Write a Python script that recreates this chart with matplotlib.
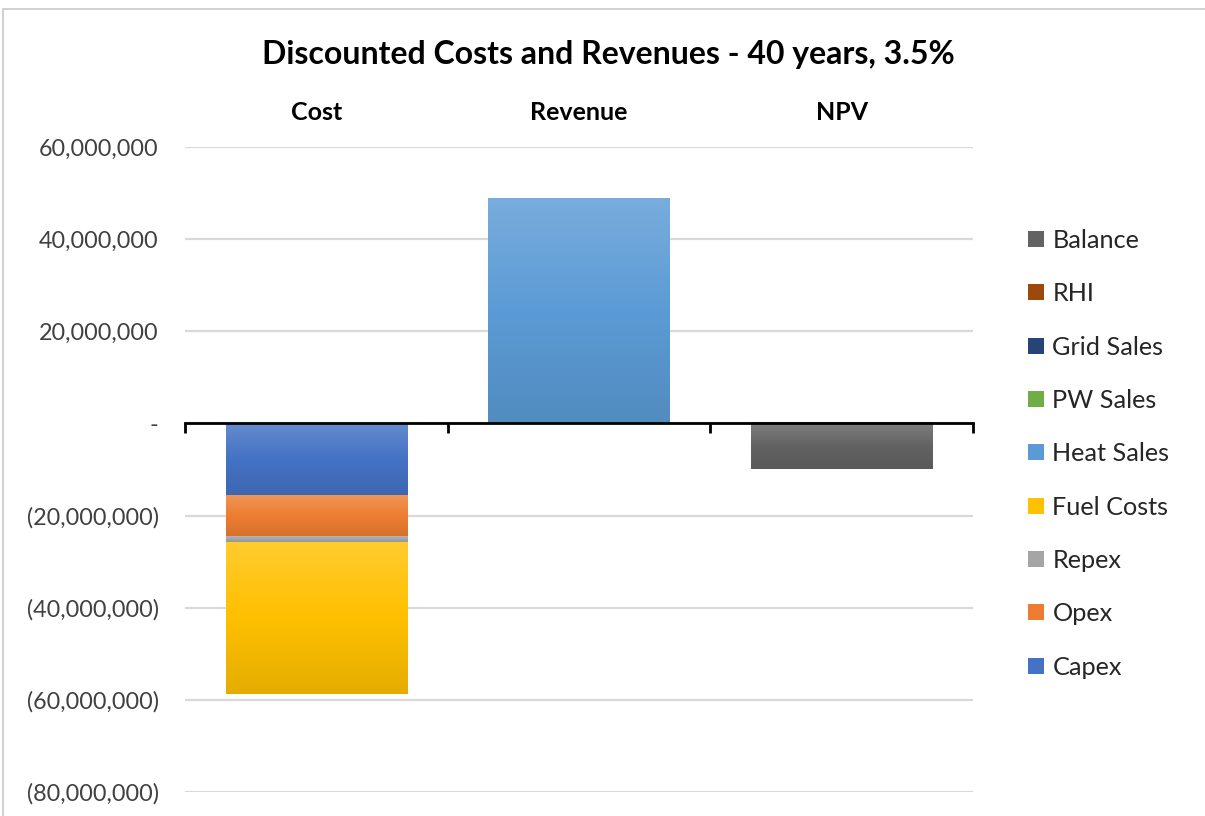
import numpy as np
import matplotlib
matplotlib.use("Agg")
import matplotlib.pyplot as plt
from matplotlib.patches import Patch, Rectangle
from matplotlib.ticker import FuncFormatter
from matplotlib.colors import to_rgb
import matplotlib.transforms as mtransforms

plt.rcParams['font.family'] = ['Lato', 'DejaVu Sans']

# --- Data ---
categories = ["Cost", "Revenue", "NPV"]
series = ["Capex", "Opex", "Repex", "Fuel Costs", "Heat Sales",
          "PW Sales", "Grid Sales", "RHI", "Balance"]
capex = [-15.6e6, 0, 0]
opex = [-9.0e6, 0, 0]
repex = [-1.2e6, 0, 0]
fuel_costs = [-32.9e6, 0, 0]
heat_sales = [0, 48.7e6, 0]
pw_sales = [0, 0, 0]
grid_sales = [0, 0, 0]
rhi = [0, 0, 0]
balance = [0, 0, -10.0e6]
values = [capex, opex, repex, fuel_costs, heat_sales, pw_sales, grid_sales, rhi, balance]
colors = ["#4472C4", "#ED7D31", "#A5A5A5", "#FFC000", "#5B9BD5",
          "#70AD47", "#264478", "#9E480E", "#636363"]


def shade(c, f):
    """f > 0 lightens towards white, f < 0 darkens towards black"""
    c = np.array(to_rgb(c))
    if f >= 0:
        return c + (1 - c) * f
    return c * (1 + f)


def gradient_bar(ax, patch, color):
    x, y = patch.get_x(), patch.get_y()
    w, h = patch.get_width(), patch.get_height()
    if h == 0:
        return
    y0, y1 = min(y, y + h), max(y, y + h)
    top, mid, bot = shade(color, 0.18), np.array(to_rgb(color)), shade(color, -0.1)
    t = np.linspace(0, 1, 200)[:, None]
    grad = np.where(t < 0.5, top + (mid - top) * (t / 0.5), mid + (bot - mid) * ((t - 0.5) / 0.5))
    ax.imshow(grad[:, None, :], extent=[x, x + w, y0, y1], aspect='auto',
              origin='upper', zorder=2, interpolation='bilinear')
    patch.set_facecolor('none')


fig = plt.figure(figsize=(12.05, 8.16), dpi=100)
ax = fig.add_axes([0.1535, 0.0294, 0.6540, 0.7905])

x = np.arange(len(categories))
pos_bottom = np.zeros(len(categories))
neg_bottom = np.zeros(len(categories))
for vals, col in zip(values, colors):
    vals = np.array(vals, dtype=float)
    bottom = np.where(vals >= 0, pos_bottom, neg_bottom)
    bars = ax.bar(x, vals, width=0.69, bottom=bottom, color=col,
                  edgecolor='none', zorder=2)
    for p in bars:
        gradient_bar(ax, p, col)
    pos_bottom += np.where(vals > 0, vals, 0)
    neg_bottom += np.where(vals < 0, vals, 0)

ax.set_xlim(-0.5, 2.5)
ax.set_ylim(-80e6, 60e6)
ax.set_yticks(np.arange(-80e6, 60e6 + 1, 20e6))


def money(v, _pos):
    if abs(v) < 1:
        return "-"
    if v < 0:
        return "({:,.0f})".format(-v)
    return "{:,.0f}".format(v)


ax.yaxis.set_major_formatter(FuncFormatter(money))
ax.tick_params(axis='y', length=0, pad=19, labelsize=16.8, labelcolor='#404040')
ax.grid(axis='y', color='#D9D9D9', lw=1.6)
ax.set_axisbelow(True)

for s in ['left', 'right', 'top']:
    ax.spines[s].set_visible(False)
ax.spines['bottom'].set_position(('data', 0))
ax.spines['bottom'].set_linewidth(2)
ax.spines['bottom'].set_zorder(3)
ax.set_xticks([-0.5, 0.5, 1.5, 2.5])
ax.set_xticklabels([])
ax.tick_params(axis='x', direction='out', length=7, width=2, color='black')

# category names along the top
trans = mtransforms.blended_transform_factory(ax.transData, ax.transAxes)
for xi, name in zip(x, categories):
    ax.text(xi, 1.054, name, transform=trans, ha='center', va='center',
            fontsize=18, fontweight='bold', color='black')

fig.text(0.505, 0.933, "Discounted Costs and Revenues - 40 years, 3.5%",
         ha='center', va='center', fontsize=23, fontweight='bold')

handles = [Patch(facecolor=c, edgecolor='none') for c in colors]
leg = fig.legend(handles[::-1], series[::-1], loc='upper left',
                 bbox_to_anchor=(0.843, 0.735), frameon=False, fontsize=18.2,
                 handlelength=0.6, handleheight=0.6, handletextpad=0.35,
                 labelspacing=1.2, borderpad=0)
for t in leg.get_texts():
    t.set_color('#262626')

fig.patches.append(Rectangle((0.0025, -0.01), 1.2, 1 - 9 / 816 + 0.01,
                             transform=fig.transFigure, fill=False,
                             edgecolor='#C8C8C8', lw=1.2))

fig.savefig("out.png", dpi=100)
